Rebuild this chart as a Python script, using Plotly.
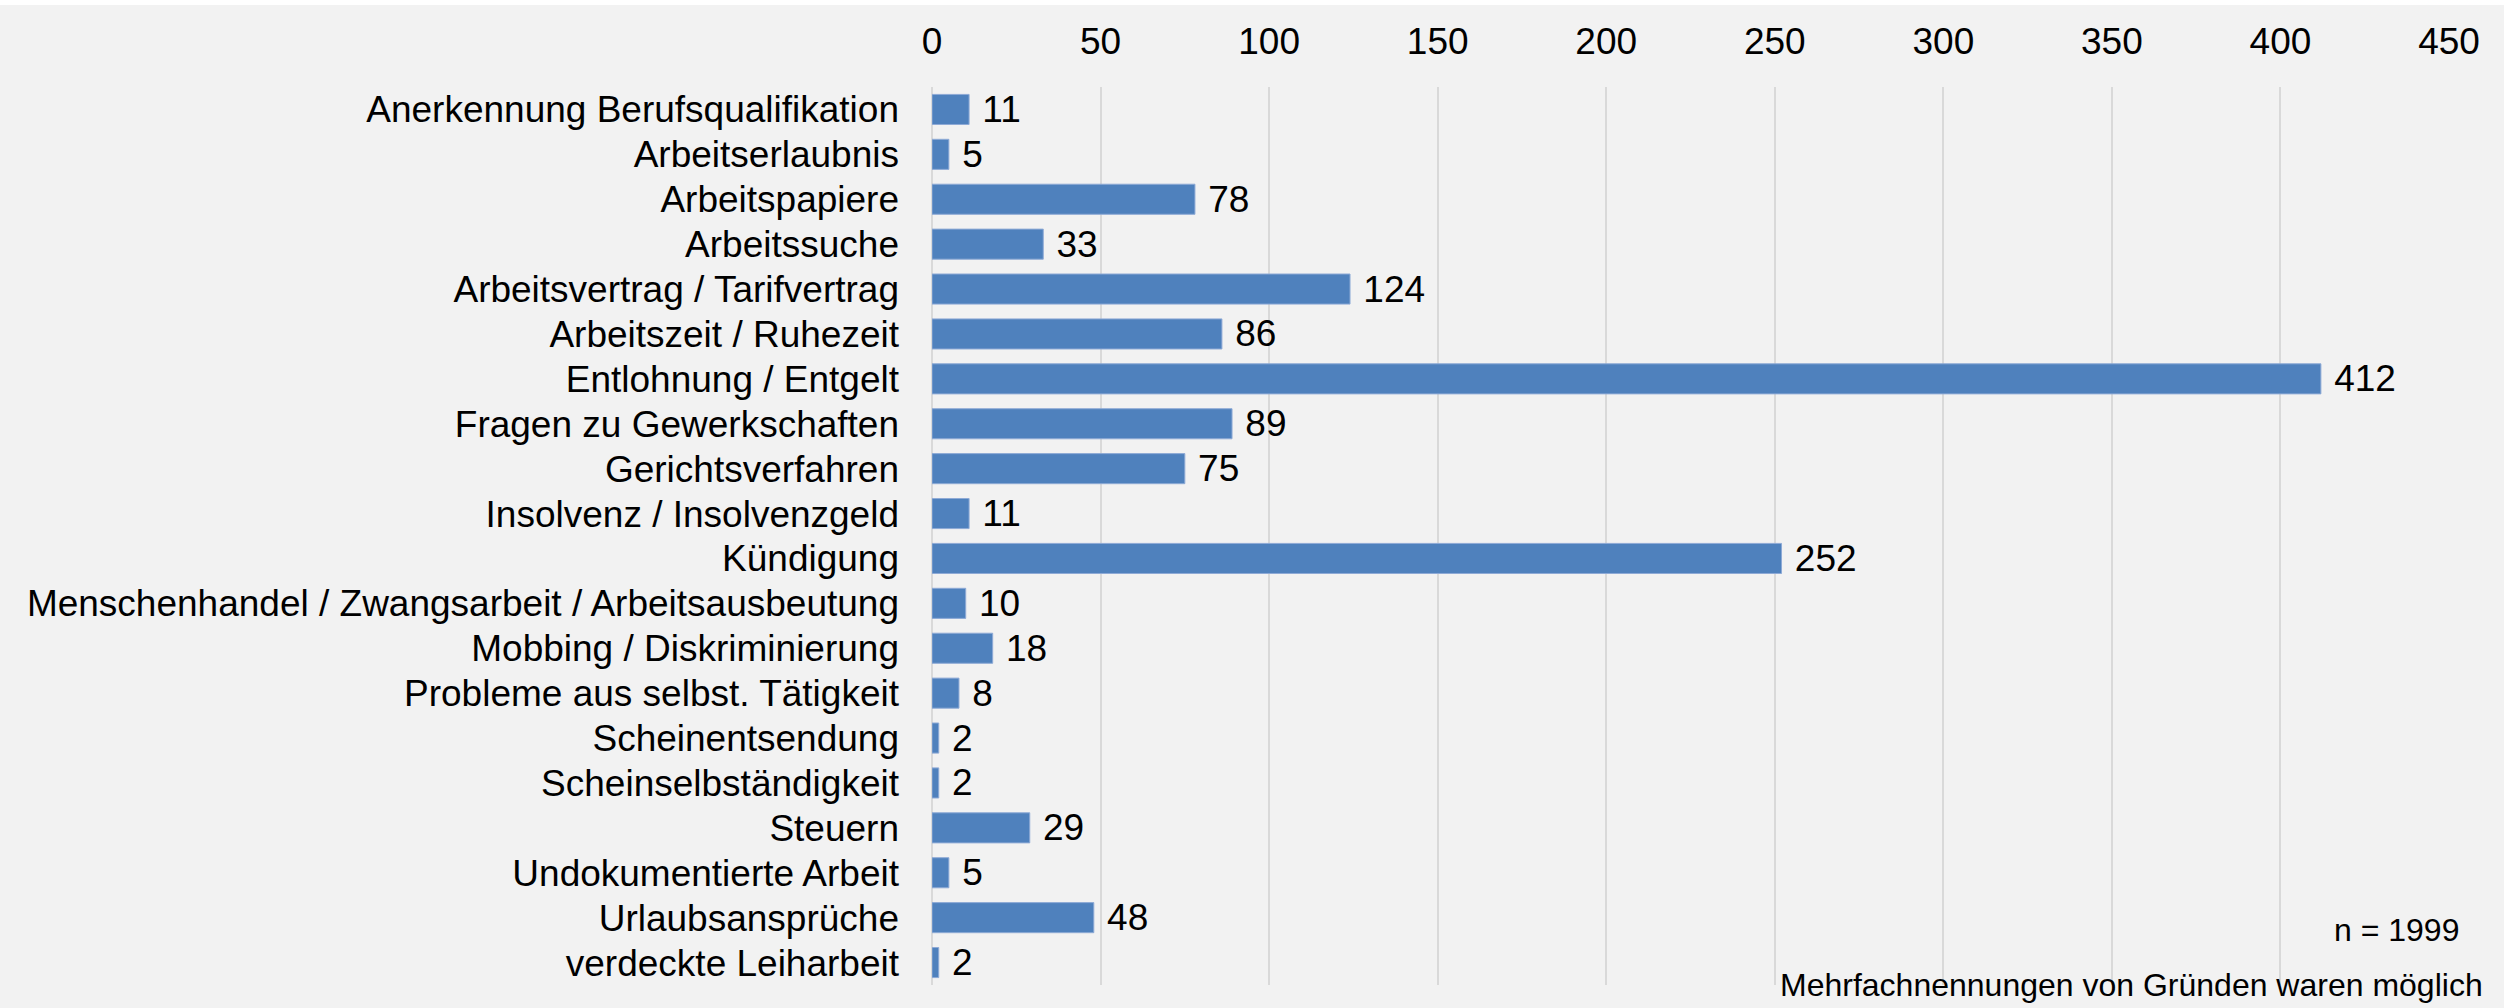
import plotly.graph_objects as go

categories = [
    "Anerkennung Berufsqualifikation",
    "Arbeitserlaubnis",
    "Arbeitspapiere",
    "Arbeitssuche",
    "Arbeitsvertrag / Tarifvertrag",
    "Arbeitszeit / Ruhezeit",
    "Entlohnung / Entgelt",
    "Fragen zu Gewerkschaften",
    "Gerichtsverfahren",
    "Insolvenz / Insolvenzgeld",
    "Kündigung",
    "Menschenhandel / Zwangsarbeit / Arbeitsausbeutung",
    "Mobbing / Diskriminierung",
    "Probleme aus selbst. Tätigkeit",
    "Scheinentsendung",
    "Scheinselbständigkeit",
    "Steuern",
    "Undokumentierte Arbeit",
    "Urlaubsansprüche",
    "verdeckte Leiharbeit",
]
values = [11, 5, 78, 33, 124, 86, 412, 89, 75, 11, 252, 10, 18, 8, 2, 2, 29, 5, 48, 2]
x_ticks = [0, 50, 100, 150, 200, 250, 300, 350, 400, 450]

FONT = "Liberation Sans, Arial, sans-serif"
FS = 37
BG = "#f2f2f2"
W, H = 2504, 1008
ML, MR, MT, MB = 932, 55, 87, 23
PH = H - MT - MB

fig = go.Figure(
    go.Bar(
        x=values,
        y=categories,
        orientation="h",
        marker=dict(color="#4f81bd", line=dict(color="#8eaad6", width=1)),
        text=values,
        texttemplate=" %{x}",
        textposition="outside",
        constraintext="none",
        textfont=dict(family=FONT, size=FS, color="#000000"),
        cliponaxis=False,
        hoverinfo="skip",
    )
)

fig.update_layout(
    width=W,
    height=H,
    autosize=False,
    margin=dict(l=ML, r=MR, t=MT, b=MB, pad=0),
    paper_bgcolor=BG,
    plot_bgcolor=BG,
    bargap=0.33,
    showlegend=False,
    font=dict(family=FONT, size=FS, color="#000000"),
    xaxis=dict(
        side="top",
        range=[0, 450],
        tickvals=x_ticks,
        ticktext=[str(t) for t in x_ticks],
        showgrid=True,
        gridcolor="#d9d9d9",
        gridwidth=2,
        zeroline=True,
        zerolinecolor="#d9d9d9",
        zerolinewidth=2,
        showline=False,
        ticks="",
        ticklabelstandoff=25,
        tickfont=dict(family=FONT, size=FS, color="#000000"),
        fixedrange=True,
    ),
    yaxis=dict(
        autorange="reversed",
        tickmode="array",
        tickvals=categories,
        ticktext=categories,
        showgrid=False,
        zeroline=False,
        showline=False,
        ticks="",
        ticklabelstandoff=32,
        tickfont=dict(family=FONT, size=FS, color="#000000"),
        fixedrange=True,
    ),
    shapes=[
        dict(
            type="rect",
            xref="paper",
            yref="paper",
            x0=-ML / (W - ML - MR) - 0.01,
            x1=1 + MR / (W - ML - MR) + 0.01,
            y0=1 + (MT - 5) / PH,
            y1=1 + (MT + 5) / PH,
            fillcolor="#ffffff",
            line=dict(width=0),
            layer="above",
        )
    ],
    annotations=[
        dict(
            text="n = 1999",
            xref="paper",
            yref="paper",
            x=(2461 - ML) / (W - ML - MR),
            y=1 - (930 - MT) / PH,
            xanchor="right",
            yanchor="middle",
            showarrow=False,
            font=dict(family=FONT, size=32, color="#000000"),
        ),
        dict(
            text="Mehrfachnennungen von Gründen waren möglich",
            xref="paper",
            yref="paper",
            x=(2485 - ML) / (W - ML - MR),
            y=1 - (985 - MT) / PH,
            xanchor="right",
            yanchor="middle",
            showarrow=False,
            font=dict(family=FONT, size=32, color="#000000"),
        ),
    ],
)

fig.write_html(
    "out.html",
    config={"displayModeBar": False},
    post_script="document.body.style.margin='0';document.body.style.padding='0';document.body.style.overflow='hidden';",
)
